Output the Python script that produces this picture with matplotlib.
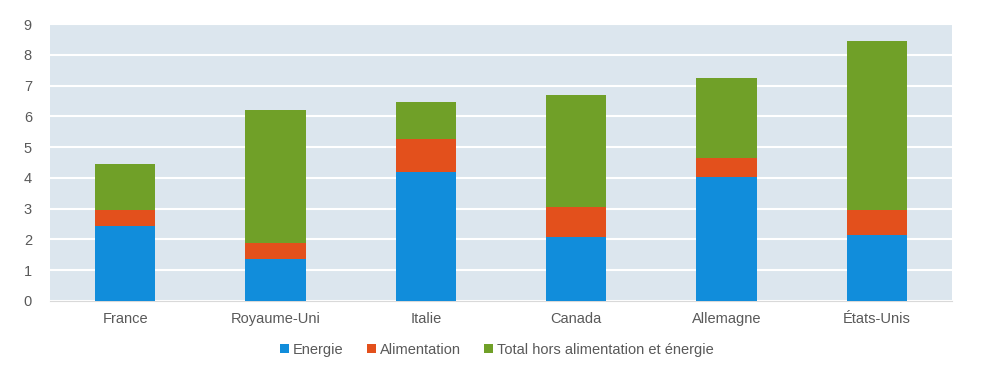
import matplotlib.pyplot as plt
import numpy as np

pays = ['France', 'Royaume-Uni', 'Italie', 'Canada', 'Allemagne', 'États-Unis']
energie = [2.44, 1.35, 4.20, 2.07, 4.04, 2.14]
alimentation = [0.51, 0.52, 1.05, 0.99, 0.59, 0.81]
total_hors = [1.51, 4.33, 1.20, 3.64, 2.63, 5.50]
yticks = list(range(0, 10))

plt.rcParams['font.family'] = ['Liberation Sans', 'DejaVu Sans']

fig = plt.figure(figsize=(9.96, 3.82), dpi=100)
ax = fig.add_axes([50 / 996, 1 - 301 / 382, 902 / 996, 277 / 382])
ax.set_facecolor('#dce6ee')

x = np.arange(len(pays))
w = 0.4
e = np.array(energie)
a = np.array(alimentation)
t = np.array(total_hors)
ax.bar(x, e, w, color='#118ddb', label='Energie', zorder=3)
ax.bar(x, a, w, bottom=e, color='#e3501c', label='Alimentation', zorder=3)
ax.bar(x, t, w, bottom=e + a, color='#70a028', label='Total hors alimentation et énergie', zorder=3)

ax.set_xlim(-0.5, len(pays) - 0.5)
ax.set_ylim(0, 9)
ax.set_yticks(yticks)
ax.set_xticks(x)
ax.set_xticklabels(pays)
ax.grid(axis='y', color='white', lw=1.5, zorder=1)
ax.tick_params(length=0, colors='#595959', labelsize=10.5, pad=8)
ax.tick_params(axis='y', pad=13)
for s in ['top', 'right', 'left']:
    ax.spines[s].set_visible(False)
ax.spines['bottom'].set_color('#d9d9d9')

leg = fig.legend(loc='center', bbox_to_anchor=(497 / 996, 1 - 350 / 382), ncol=3, frameon=False,
                 fontsize=10.5, handlelength=0.6, handleheight=0.6, handletextpad=0.3,
                 columnspacing=1.6)
for txt in leg.get_texts():
    txt.set_color('#595959')

fig.savefig('out.png', dpi=100, facecolor='white')
